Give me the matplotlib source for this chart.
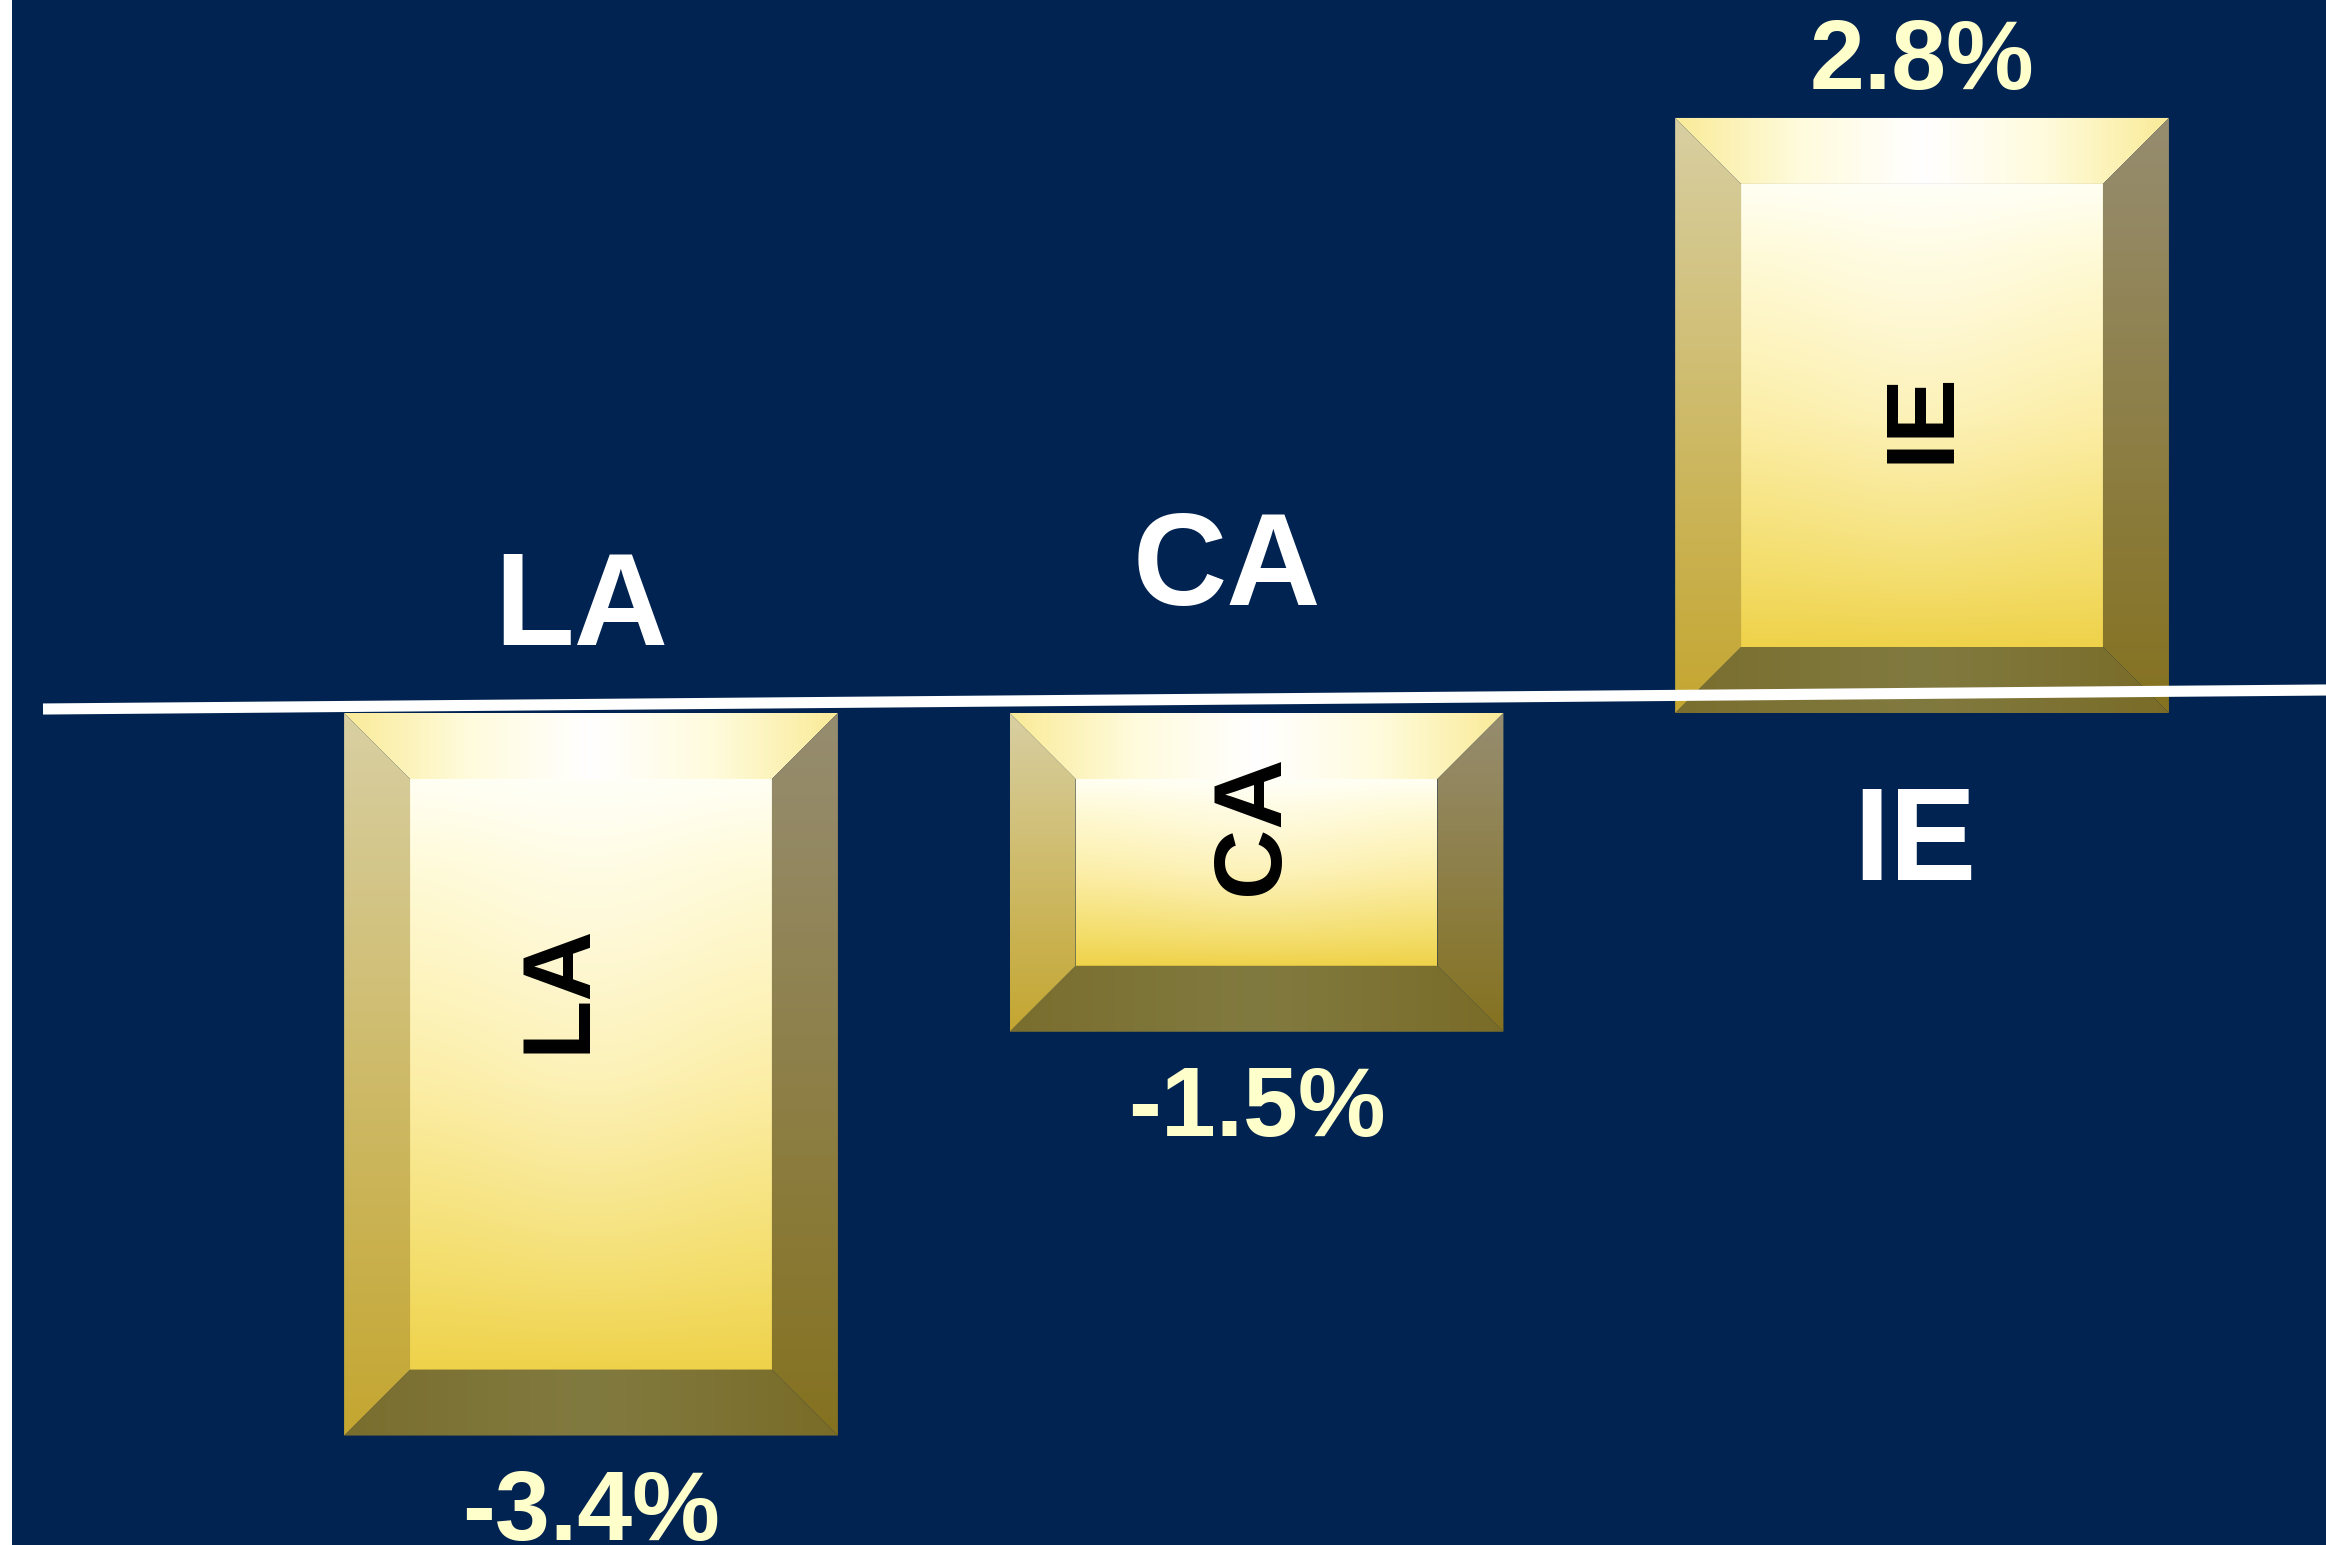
import numpy as np
import matplotlib.pyplot as plt
from matplotlib.patches import Polygon
from matplotlib.colors import to_rgb

categories = ['LA', 'CA', 'IE']
values = [-3.4, -1.5, 2.8]
value_labels = ['%.1f%%' % v for v in values]

# label placement (data coords)
outer_x = [-0.015, 0.955, 1.989]
outer_y = [0.32, 0.508, -0.786]
inner_x = [-0.047, 0.995, 2.002]
inner_y = [-1.296, -0.525, 1.393]

W, H, DPI = 2326, 1545, 100
left_px = 12
navy = '#012351'
xlim = (-0.870, 2.607)
ylim = (-3.915, 3.355)
bar_w = 0.742
bevel_px = 66

fig = plt.figure(figsize=(W / DPI, H / DPI), dpi=DPI, facecolor='white')
ax = fig.add_axes([left_px / W, 0, 1 - left_px / W, 1])
ax.set_facecolor(navy)
ax.set_xticks([])
ax.set_yticks([])
for s in ax.spines.values():
    s.set_visible(False)

ppx = (W - left_px) / (xlim[1] - xlim[0])
ppy = H / (ylim[1] - ylim[0])
bx = bevel_px / ppx
by = bevel_px / ppy


def ramp(stops, n=200):
    pos = [p for p, c in stops]
    cols = np.array([to_rgb(c) for p, c in stops])
    t = np.linspace(0, 1, n)
    return np.stack([np.interp(t, pos, cols[:, k]) for k in range(3)], axis=-1)


def paint(poly, img, extent, z=2):
    patch = Polygon(poly, closed=True, facecolor='none', edgecolor='none')
    ax.add_patch(patch)
    im = ax.imshow(img, extent=extent, aspect='auto', interpolation='bilinear',
                   origin='upper', zorder=z)
    im.set_clip_path(patch)


face_stops = [(0, '#FFFFF2'), (0.15, '#FFFAD6'), (0.5, '#FCEEA6'), (0.85, '#F3DC66'), (1, '#EFD24A')]
top_stops = [(0, '#FAEB98'), (0.25, '#FFFBDC'), (0.5, '#FFFFFF'), (0.75, '#FFFBDC'), (1, '#FAEB98')]
left_stops = [(0, '#D8CFA2'), (1, '#C4A630')]
right_stops = [(0, '#968D70'), (1, '#857220')]
bottom_stops = [(0, '#7A6E2E'), (0.5, '#817A40'), (1, '#7A6C28')]

for i, v in enumerate(values):
    x0, x1 = i - bar_w / 2, i + bar_w / 2
    y0, y1 = min(0, v), max(0, v)
    ext = (x0, x1, y0, y1)

    # inner face: vertical ramp with a soft highlight near the top centre
    face = ramp(face_stops)[:, None, :] * np.ones((1, 120, 1))
    xs = np.linspace(0, 1, 120)[None, :, None]
    ts = np.linspace(0, 1, 200)[:, None, None]
    hl = np.exp(-((xs - 0.5) / 0.35) ** 2) * (1 - ts) * 0.4
    face = face + (1 - face) * hl
    paint([(x0 + bx, y0 + by), (x1 - bx, y0 + by), (x1 - bx, y1 - by), (x0 + bx, y1 - by)],
          face, (x0 + bx, x1 - bx, y0 + by, y1 - by))

    paint([(x0, y1), (x1, y1), (x1 - bx, y1 - by), (x0 + bx, y1 - by)],
          ramp(top_stops)[None, :, :], ext)
    paint([(x0, y0), (x1, y0), (x1 - bx, y0 + by), (x0 + bx, y0 + by)],
          ramp(bottom_stops)[None, :, :], ext)
    paint([(x0, y0), (x0, y1), (x0 + bx, y1 - by), (x0 + bx, y0 + by)],
          ramp(left_stops)[:, None, :], ext)
    paint([(x1, y0), (x1, y1), (x1 - bx, y1 - by), (x1 - bx, y0 + by)],
          ramp(right_stops)[:, None, :], ext)

    ax.text(outer_x[i], outer_y[i], categories[i], color='white', fontsize=94,
            fontweight='bold', family='Liberation Sans', ha='center', va='baseline', zorder=5)
    ax.text(inner_x[i], inner_y[i], categories[i], color='black', fontsize=70,
            fontweight='bold', family='Liberation Sans', rotation=90,
            ha='center', va='center', zorder=5)
    off = 29 if v > 0 else -104
    ax.annotate(value_labels[i], xy=(i, v), xytext=(0, off), textcoords='offset pixels',
                ha='center', va='baseline', color='#FFFFCC', fontsize=71,
                fontweight='bold', family='Liberation Sans', zorder=5)

# hand-drawn baseline, slightly tilted
ax.plot([0.0134, 1.0], [0.5411, 0.5534], transform=ax.transAxes, color='white',
        lw=8, solid_capstyle='butt', zorder=4, clip_on=False)

ax.set_xlim(*xlim)
ax.set_ylim(*ylim)

fig.savefig('out.png', dpi=DPI, facecolor=fig.get_facecolor())
